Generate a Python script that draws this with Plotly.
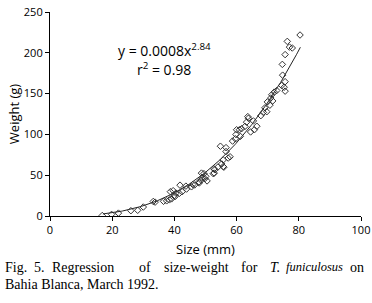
import numpy as np
import plotly.graph_objects as go

# Observed size (mm) and weight (g)
size_mm = [16.8, 19.8, 22.0, 26.0, 28.2, 30.0, 33.2, 33.8, 36.5, 37.5, 38.4, 39.1, 39.9,
           38.7, 39.6, 40.2, 40.5, 41.6, 41.8, 42.5, 43.7, 43.9, 45.5, 45.9, 46.5, 47.9,
           48.0, 48.6, 48.7, 49.8, 49.0, 50.1, 50.5, 49.5, 52.5, 52.8, 52.7, 53.0, 54.0,
           55.2, 55.7, 55.9, 55.7, 57.3, 57.9, 56.6, 54.8, 56.6, 58.7, 59.6, 59.8, 60.0,
           61.2, 60.9, 61.6, 62.7, 63.2, 63.8, 63.6, 65.4, 65.7, 64.5, 66.5, 67.8, 68.6,
           69.7, 69.1, 70.7, 69.9, 71.6, 71.0, 71.3, 72.1, 72.9, 75.6, 75.3, 74.5, 75.6,
           74.8, 74.7, 75.6, 77.9, 77.0, 76.3, 80.4]
weight_g = [0.6, 2.0, 3.5, 6.5, 7.0, 11.0, 17.8, 17.0, 18.0, 18.6, 19.8, 21.0, 24.6,
            29.8, 31.0, 23.8, 28.0, 27.8, 37.8, 29.8, 36.6, 33.0, 35.8, 38.6, 38.0, 41.8,
            40.5, 43.8, 52.6, 45.8, 47.0, 48.6, 43.0, 51.9, 51.9, 52.6, 57.8, 56.7, 60.0,
            63.8, 60.6, 59.8, 68.7, 71.0, 72.6, 79.0, 85.5, 83.8, 91.8, 94.6, 99.8, 105.7,
            97.6, 105.7, 107.0, 109.8, 115.0, 119.8, 121.8, 116.5, 105.7, 103.0, 110.0, 123.0, 126.9,
            127.8, 132.6, 135.8, 139.8, 141.0, 144.6, 148.6, 151.8, 153.8, 153.0, 157.8, 159.9, 164.6,
            172.6, 185.8, 197.8, 205.9, 207.0, 214.0, 221.8]

# Regression y = a * x^b
fit_a = 0.0008
fit_b = 2.84
fit_x_range = [17, 80.5]

x_ticks = [0, 20, 40, 60, 80, 100]
y_ticks = [0, 50, 100, 150, 200, 250]

# Caption (first line is justified in the original, so words are laid out separately)
caption_line1_words = ["Fig.", "5.", "Regression", "of", "size-weight", "for",
                       "<i>T.</i>", "<i>funiculosus</i>", "on"]
caption_line1_px = [4, 33, 51, 138, 163, 240, 269, 285, 349]
caption_line1_size = [14, 14, 14, 14, 14, 14, 14, 12.5, 14]
caption_line2 = "Bahia Blanca, March 1992."

W, H = 372, 303
plot_left, plot_right, plot_top, plot_bottom = 50, 361, 12, 216.5
L, R, T, B = plot_left, W - plot_right, plot_top, H - plot_bottom
PW, PH = W - L - R, H - T - B

fx = np.linspace(fit_x_range[0], fit_x_range[1], 200)
fy = fit_a * fx ** fit_b

fig = go.Figure()
fig.add_trace(go.Scatter(x=fx, y=fy, mode="lines",
                         line=dict(color="#222222", width=1), hoverinfo="skip"))
fig.add_trace(go.Scatter(x=size_mm, y=weight_g, mode="markers",
                         marker=dict(symbol="diamond-open", size=5, color="#333333",
                                     line=dict(width=1, color="#333333"))))

sans = "Open Sans, Noto Sans, sans-serif"
axis_font = dict(family=sans, size=11, color="black")
fig.update_layout(
    width=W, height=H,
    margin=dict(l=L, r=R, t=T, b=B),
    paper_bgcolor="white", plot_bgcolor="white",
    showlegend=False,
    xaxis=dict(range=[0, 100], tickvals=x_ticks, showgrid=False, zeroline=False,
               automargin=False,
               showline=True, linecolor="black", linewidth=1.2,
               ticks="outside", ticklen=4, tickwidth=1, tickcolor="black",
               tickfont=axis_font,
               title=dict(text="Size (mm)", standoff=8,
                          font=dict(family=sans, size=13, color="black"))),
    yaxis=dict(range=[0, 250], tickvals=y_ticks, showgrid=False, zeroline=False,
               automargin=False,
               showline=True, linecolor="black", linewidth=1.2,
               ticks="outside", ticklen=4, tickwidth=1, tickcolor="black",
               tickfont=axis_font,
               title=dict(text="Weight (g)", standoff=1,
                          font=dict(family=sans, size=13, color="black"))),
)


def px_x(p):
    return (p - L) / PW


def px_y(p):
    return (H - B - p) / PH


fig.add_annotation(xref="paper", yref="paper", x=px_x(164), y=px_y(50),
                   text="y = 0.0008x<sup>2.84</sup>",
                   showarrow=False, xanchor="center", yanchor="middle",
                   font=dict(family=sans, size=14, color="black"))
fig.add_annotation(xref="paper", yref="paper", x=px_x(164), y=px_y(69),
                   text="r<sup>2</sup> = 0.98",
                   showarrow=False, xanchor="center", yanchor="middle",
                   font=dict(family=sans, size=14, color="black"))

serif_family = "Liberation Serif, Times New Roman, serif"
for word, p, s in zip(caption_line1_words, caption_line1_px, caption_line1_size):
    fig.add_annotation(xref="paper", yref="paper", x=px_x(p), y=px_y(268),
                       text=word, showarrow=False, xanchor="left", yanchor="middle",
                       xshift=-1, font=dict(family=serif_family, size=s, color="black"))
fig.add_annotation(xref="paper", yref="paper", x=px_x(4), y=px_y(285),
                   text=caption_line2, showarrow=False, xanchor="left", yanchor="middle",
                   xshift=-1, font=dict(family=serif_family, size=14, color="black"))

fig.write_html("out.html", config={"displayModeBar": False},
               post_script="document.body.style.margin='0';document.body.style.overflow='hidden';")
